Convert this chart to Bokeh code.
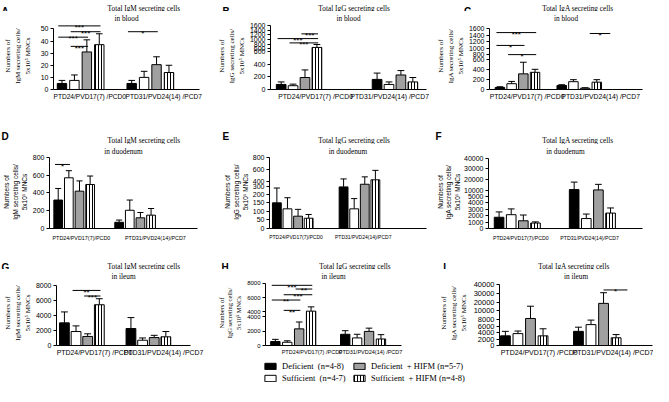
from bokeh.plotting import figure
from bokeh.models import Range1d, FixedTicker, Legend, LegendItem, Title
from bokeh.layouts import column, row
from bokeh.embed import file_html
from bokeh.resources import INLINE
from bokeh.core.properties import value

# ---------------- data ----------------
groups_bi = ["PTD24/PVD17(7) /PCD0", "PTD31/PVD24(14) /PCD7"]
groups_duo = ["PTD24/PVD17(7)/PCD0", "PTD31/PVD24(14)/PCD7"]
series = ["Deficient", "Sufficient", "Deficient + HIFM", "Sufficient + HIFM"]
legend_labels = ["Deficient  (n=4-8)", "Sufficient  (n=4-7)",
                 "Deficient  + HIFM (n=5-7)", "Sufficient  + HIFM (n=4-8)"]

# A  IgM blood
igm_blood_mean = [[5, 7.5, 31, 37], [5, 10, 20.5, 14]]
igm_blood_err = [[2.5, 4.5, 10, 9], [2.5, 5, 6.5, 6]]
igm_blood_ticks = [[0, 10, 20, 30, 40, 50]]
igm_blood_sig = [(0, 0, 3, 52.5, "***"), (0, 1, 3, 47.7, "***"), (0, 0, 2, 43.2, "***"),
                 (0, 1, 2, 35.6, "***"), (1, 0, 2, 47.7, "*")]
# B  IgG blood
igg_blood_mean = [[80, 60, 190, 650], [160, 80, 230, 120]]
igg_blood_err = [[40, 25, 120, 130], [100, 40, 70, 70]]
igg_blood_ticks = [[0, 200, 400, 600], [600, 800, 1000, 1200, 1400, 1600]]
igg_blood_sig = [(0, 2, 3, 1250, "***"), (0, 0, 3, 1040, "***"), (0, 1, 3, 850, "***")]
# C  IgA blood
iga_blood_mean = [[40, 115, 310, 340], [80, 155, 25, 145]]
iga_blood_err = [[15, 45, 230, 60], [15, 40, 10, 50]]
iga_blood_ticks = [[0, 200, 400, 600], [800, 1000, 1200, 1400, 1600]]
iga_blood_sig = [(0, 0, 3, 1486, "***"), (0, 0, 2, 1086, "*"), (0, 1, 3, 800, "*"),
                 (1, 2.7, 4.05, 1457, "*")]
# D  IgM duodenum
igm_duo_mean = [[320, 570, 420, 495], [70, 205, 120, 150]]
igm_duo_err = [[130, 80, 115, 95], [25, 115, 60, 75]]
igm_duo_ticks = [[0, 200, 400, 600, 800]]
igm_duo_sig = [(0, 0, 1, 720, "*")]
# E  IgG duodenum
igg_duo_mean = [[150, 115, 72, 60], [300, 115, 345, 420]]
igg_duo_err = [[135, 65, 40, 22], [135, 60, 125, 160]]
igg_duo_ticks = [[0, 50, 100, 150, 200], [300, 400, 600, 800]]
igg_duo_sig = []
# F  IgA duodenum
iga_duo_mean = [[1750, 2150, 1200, 850], [10500, 1550, 10200, 2400]]
iga_duo_err = [[830, 900, 900, 180], [7000, 700, 5200, 800]]
iga_duo_ticks = [[0, 1000, 2000, 3000, 4000, 5000], [10000, 20000, 30000, 40000]]
iga_duo_sig = []
# G  IgM ileum
igm_ile_mean = [[3000, 1850, 1200, 5400], [2250, 700, 1050, 1150]]
igm_ile_err = [[1450, 750, 350, 800], [1450, 300, 300, 700]]
igm_ile_ticks = [[0, 2000, 4000, 6000, 8000]]
igm_ile_sig = [(0, 1, 3, 7300, "**"), (0, 2, 3, 6560, "***")]
# H  IgG ileum
igg_ile_mean = [[550, 450, 2300, 4100], [1550, 1050, 1950, 900]]
igg_ile_err = [[300, 200, 950, 600], [500, 500, 450, 600]]
igg_ile_ticks = [[0, 2000, 4000], [4000, 6000, 8000]]
igg_ile_sig = [(0, 0, 3, 7720, "***"), (0, 2, 3, 7200, "**"), (0, 1, 3, 6400, "***"),
               (0, 0, 2, 5660, "**"), (0, 1, 2, 4210, "**")]
# I  IgA ileum
iga_ile_mean = [[3000, 3700, 8300, 3000], [4400, 6500, 18500, 2400]]
iga_ile_err = [[1400, 800, 7000, 2200], [1300, 1400, 12000, 1000]]
iga_ile_ticks = [[0, 2000, 4000, 6000, 8000], [10000, 20000, 30000, 40000]]
iga_ile_sig = [(1, 2.3, 3.8, 33600, "*")]

panel_letters = ["A", "B", "C", "D", "E", "F", "G", "H", "I"]
titles = [("Total IgM secreting cells", "in blood"), ("Total IgG  secreting cells", "in blood"),
          ("Total IgA secreting cells", "in blood"),
          ("Total IgM secreting cells", "in duodenum"), ("Total IgG  secreting cells", "in duodenum"),
          ("Total IgA secreting cells", "in duodenum"),
          ("Total IgM secreting cells", "in ileum"), ("Total IgG secreting cells", "in ileum"),
          ("Total IgA secreting cells", "in ileum")]

# ---------------- layout (reference pixel geometry -> page pixels) ----------------
OX, OY = 4, 3
SX = 653 / (669 - OX)
SY = 386 / (397 - OY)


def X(v):
    return int(round((v - OX) * SX))


def Y(v):
    return int(round((v - OY) * SY))


SERIF = "Liberation Serif"
SANS = "Liberation Sans"

C1, C2, C3 = (OX, 222), (222, 445), (445, 669)
# header band (letters + first title line), body band top, frame top, body bottom (reference y)
ROWS = [((OY, 14), 22, 122), ((122, 150), 158, 262), ((262, 278), 286, 368)]
LEGEND_BAND = (368, 397)

# letter (x, baseline y), title centre x, first-title-line baseline
HEAD = {
    "A": ((5, 12.5), 150, 10.3), "B": ((230, 12.5), 365, 10.3), "C": ((476, 12.5), 592, 10.3),
    "D": ((5, 141.5), 150, 146.3), "E": ((230, 141.5), 365, 146.3), "F": ((447, 141.5), 592, 146.3),
    "G": ((5, 276), 150, 274.3), "H": ((229, 276), 365, 274.3), "I": ((455, 276), 588, 274.3),
}

LAY = {
    "A": dict(cols=C1, row=0, frame=(52, 207, 95), segs=[(0, 50, 95, 29)],
              g=[61, 135], step=13.2, w=10, xl=[90.5, 169], xfs=6.6, xso=3,
              tfs=7, yfont=SERIF, yfs=7, ylso=6),
    "B": dict(cols=C2, row=0, frame=(277, 438, 94),
              segs=[(0, 600, 94, 53.3), (600, 1600, 50, 25.7)],
              g=[288, 387], step=12.3, w=10, xl=[323.5, 400], xfs=6.8, xso=3,
              tfs=7, yfont=SERIF, yfs=7, ylso=1),
    "C": dict(cols=C3, row=0, frame=(497, 658, 95),
              segs=[(0, 600, 95, 62), (800, 1600, 57, 29)],
              g=[508, 573], step=12.3, w=10, xl=[536.5, 614], xfs=6.8, xso=3,
              tfs=7, yfont=SERIF, yfs=7, ylso=1),
    "D": dict(cols=C1, row=1, frame=(52, 205, 237), segs=[(0, 800, 237, 160)],
              g=[61, 124], step=11, w=9, xl=[85, 161.5], xfs=5.4, xso=6,
              tfs=7, yfont=SANS, yfs=6.5, ylso=2),
    "E": dict(cols=C2, row=1, frame=(278, 438, 237),
              segs=[(0, 200, 237, 200), (300, 800, 192, 160)],
              g=[285.5, 353.5], step=10.8, w=9, xl=[305, 373.5], xfs=5.0, xso=5,
              tfs=7, yfont=SANS, yfs=6.5, ylso=1),
    "F": dict(cols=C3, row=1, frame=(498, 658, 236),
              segs=[(0, 5000, 236, 201.7), (10000, 40000, 195, 160.7)],
              g=[509, 587], step=12.6, w=10, xl=[531.5, 603], xfs=5.2, xso=6,
              tfs=7, yfont=SANS, yfs=6.5, ylso=0),
    "G": dict(cols=C1, row=2, frame=(53, 197, 356), segs=[(0, 8000, 356, 291)],
              g=[61.5, 133], step=12.5, w=10.5, xl=[94, 168], xfs=6.9, xso=3,
              tfs=7, yfont=SERIF, yfs=7, ylso=1),
    "H": dict(cols=C2, row=2, frame=(267, 412, 355),
              segs=[(0, 4000, 355, 324.3), (4000, 8000, 319.3, 289)],
              g=[277.5, 352], step=12.7, w=10, xl=[316.5, 379], xfs=5.5, xso=3,
              tfs=6, yfont=SERIF, yfs=6.5, ylso=2),
    "I": dict(cols=C3, row=2, frame=(512, 668, 355),
              segs=[(0, 8000, 355, 327.7), (10000, 40000, 318.3, 290)],
              g=[518, 592.5], step=12.8, w=10, xl=[552.5, 628], xfs=7.0, xso=3,
              tfs=7.5, yfont=SERIF, yfs=7, ylso=3),
}

BAR_STYLE = [
    dict(fill_color="black"),
    dict(fill_color="white"),
    dict(fill_color="#a0a0a0"),
    dict(fill_color="white", hatch_pattern="vertical_line", hatch_color="black",
         hatch_scale=3.0, hatch_weight=1.0),
]


def seg_px(sg, v):
    v0, v1, p0, p1 = sg
    return p0 + (v - v0) * (p1 - p0) / (v1 - v0)


def make_scale(segs, base):
    def h(v):
        for i, sg in enumerate(segs):
            if sg[0] <= v <= sg[1]:
                return base - seg_px(sg, v)
            if i + 1 < len(segs) and sg[1] < v < segs[i + 1][0]:
                nx = segs[i + 1]
                return base - (sg[3] + (v - sg[1]) * (nx[2] - sg[3]) / (nx[0] - sg[1]))
        return base - seg_px(segs[-1], v)
    return h


def blank_fig(y0, y1):
    f = figure(width=653, height=Y(y1) - Y(y0), x_range=Range1d(OX, 669),
               y_range=Range1d(y1, y0), x_axis_type=None, y_axis_type=None,
               output_backend="svg", toolbar_location=None, min_border=0, title=None)
    f.outline_line_color = None
    f.grid.visible = False
    return f


def header(r, keys):
    (y0, y1), _, _ = ROWS[r]
    f = blank_fig(y0, y1)
    for key in keys:
        (lx, ly), tx, tb = HEAD[key]
        k = panel_letters.index(key)
        f.text(x=[lx], y=[ly], text=[key], text_font=value(SANS), text_font_style="bold",
               text_font_size=value("10px"), text_baseline="alphabetic", text_align="left",
               text_color="black")
        f.text(x=[tx], y=[tb], text=[titles[k][0]],
               text_font=value(SERIF), text_font_size=value("7.3px"),
               text_baseline="alphabetic", text_align="center", text_color="black")
    return f


def panel(key, mean, err, ticks, sig, groups, ylabel):
    lay = LAY[key]
    c0, c1 = lay["cols"]
    (_, top0), T, r1 = ROWS[lay["row"]]
    L, R, B = lay["frame"]
    p = figure(width=X(c1) - X(c0), height=Y(r1) - Y(top0), title=None,
               output_backend="svg", toolbar_location=None,
               x_range=Range1d(L, R), y_range=Range1d(0, B - T),
               min_border_left=X(L) - X(c0), min_border_right=X(c1) - X(R),
               min_border_top=Y(T) - Y(top0), min_border_bottom=Y(r1) - Y(B))
    p.outline_line_color = None
    p.xgrid.visible = False
    p.ygrid.visible = False
    k = panel_letters.index(key)
    _, tx, _ = HEAD[key]
    p.add_layout(Title(text=titles[k][1], align="center", offset=X(tx) - X((L + R) / 2),
                       text_font=SERIF, text_font_size="7.3px", text_font_style="normal",
                       text_color="black", standoff=0), "above")
    h = make_scale(lay["segs"], B)

    g, step, w = lay["g"], lay["step"], lay["w"]
    for s in range(4):
        xs = [g[n] + s * step for n in range(2)]
        tops = [h(mean[n][s]) for n in range(2)]
        ends = [h(mean[n][s] + err[n][s]) for n in range(2)]
        p.segment(x0=xs, y0=tops, x1=xs, y1=ends, line_color="black", line_width=1)
        cw = w * 0.35
        p.segment(x0=[x - cw for x in xs], y0=ends, x1=[x + cw for x in xs], y1=ends,
                  line_color="black", line_width=1)
        p.vbar(x=xs, top=tops, bottom=0, width=w, line_color="black", line_width=1,
               **BAR_STYLE[s])

    for (n, i, j, v, stars) in sig:
        x0 = g[n] + (i - 0.3) * step
        x1 = g[n] + (j + 0.1) * step
        yy = h(v)
        p.segment(x0=[x0], y0=[yy], x1=[x1], y1=[yy], line_color="black", line_width=1)
        p.text(x=[(x0 + x1) / 2], y=[yy - 2], text=[stars], text_align="center",
               text_baseline="alphabetic", text_font=value(SANS),
               text_font_size=value("8px"), text_color="black")

    xa = p.xaxis[0]
    xa.ticker = FixedTicker(ticks=[float(t) for t in lay["xl"]], minor_ticks=[])
    xa.major_label_overrides = {float(t): groups[n] for n, t in enumerate(lay["xl"])}
    xa.major_tick_line_color = None
    xa.minor_tick_line_color = None
    xa.major_tick_out = 0
    xa.major_tick_in = 0
    xa.major_label_standoff = lay["xso"]
    xa.major_label_text_font = SANS
    xa.major_label_text_font_size = "%.1fpx" % lay["xfs"]
    xa.major_label_text_color = "black"
    xa.axis_line_color = "black"

    tick_pos, tick_lab = [], {}
    for sg, tks in zip(lay["segs"], ticks):
        for t in tks:
            hp = round(B - seg_px(sg, t), 3)
            tick_pos.append(hp)
            tick_lab[hp] = str(t)
    ya = p.yaxis[0]
    ya.ticker = FixedTicker(ticks=tick_pos, minor_ticks=[])
    ya.major_label_overrides = tick_lab
    ya.bounds = (0, max(tick_pos))
    ya.minor_tick_line_color = None
    ya.major_tick_out = 3
    ya.major_tick_in = 0
    ya.major_label_standoff = 2
    ya.major_label_text_font = SANS
    ya.major_label_text_font_size = "%.1fpx" % lay["tfs"]
    ya.major_label_text_color = "black"
    ya.axis_line_color = "black"
    ya.axis_label = ylabel
    ya.axis_label_text_font = lay["yfont"]
    ya.axis_label_text_font_size = "%.1fpx" % lay["yfs"]
    ya.axis_label_text_font_style = "normal"
    ya.axis_label_text_color = "black"
    ya.axis_label_standoff = lay["ylso"]
    ya.axis_label_text_line_height = 1.25
    return p


def ylab(iso):
    return "Numbers of\n%s secreting cells/\n5x10\u2075 MNCs" % iso


pA = panel("A", igm_blood_mean, igm_blood_err, igm_blood_ticks, igm_blood_sig, groups_bi, ylab("IgM"))
pB = panel("B", igg_blood_mean, igg_blood_err, igg_blood_ticks, igg_blood_sig, groups_bi, ylab("IgG"))
pC = panel("C", iga_blood_mean, iga_blood_err, iga_blood_ticks, iga_blood_sig, groups_bi, ylab("IgA"))
pD = panel("D", igm_duo_mean, igm_duo_err, igm_duo_ticks, igm_duo_sig, groups_duo, ylab("IgM"))
pE = panel("E", igg_duo_mean, igg_duo_err, igg_duo_ticks, igg_duo_sig, groups_duo, ylab("IgG"))
pF = panel("F", iga_duo_mean, iga_duo_err, iga_duo_ticks, iga_duo_sig, groups_duo, ylab("IgA"))
pG = panel("G", igm_ile_mean, igm_ile_err, igm_ile_ticks, igm_ile_sig, groups_bi, ylab("IgM"))
pH = panel("H", igg_ile_mean, igg_ile_err, igg_ile_ticks, igg_ile_sig, groups_bi, ylab("IgG"))
pI = panel("I", iga_ile_mean, iga_ile_err, iga_ile_ticks, iga_ile_sig, groups_bi, ylab("IgA"))

h1 = header(0, ["A", "B", "C"])
h2 = header(1, ["D", "E", "F"])
h3 = header(2, ["G", "H", "I"])

# legend band
lf = blank_fig(*LEGEND_BAND)
rs = [lf.vbar(x=[5000], top=[380], bottom=[375], width=5, line_color="black", line_width=1,
              **BAR_STYLE[s]) for s in range(4)]
for idx, lxr in ((0, 272), (2, 362)):
    leg = Legend(items=[LegendItem(label=legend_labels[idx], renderers=[rs[idx]]),
                        LegendItem(label=legend_labels[idx + 1], renderers=[rs[idx + 1]])],
                 location=(X(lxr), 3), orientation="vertical",
                 padding=0, margin=0, spacing=2, glyph_width=14, glyph_height=8,
                 label_standoff=5, label_height=8, label_text_font=SERIF,
                 label_text_font_size="8.5px", label_text_color="black",
                 border_line_color=None, background_fill_alpha=0)
    lf.add_layout(leg)

root = column(h1, row(pA, pB, pC), h2, row(pD, pE, pF), h3, row(pG, pH, pI), lf)
open("out.html", "w").write(file_html(root, INLINE))
